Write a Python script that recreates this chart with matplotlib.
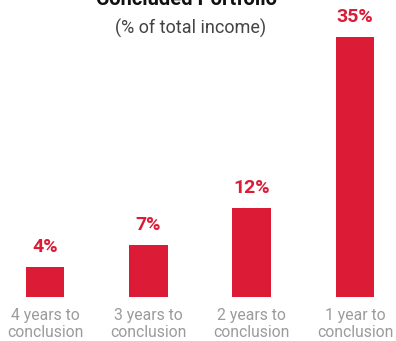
import matplotlib
matplotlib.use("Agg")
import matplotlib.pyplot as plt

categories = ["4 years to\nconclusion", "3 years to\nconclusion", "2 years to\nconclusion", "1 year to\nconclusion"]
values = [4, 7, 12, 35]
labels = ["4%", "7%", "12%", "35%"]

RED = "#dc1b37"
GRAY = "#9b9b9b"

plt.rcParams["font.family"] = ["Roboto", "DejaVu Sans"]

fig = plt.figure(figsize=(3.96, 3.41), dpi=100)
ax = fig.add_axes([0, 44 / 341, 1, 297 / 341])

x = range(len(values))
ax.bar(x, values, width=0.377, color=RED)
for i, (v, lab) in enumerate(zip(values, labels)):
    ax.annotate(lab, (i, v), xytext=(0, 8), textcoords="offset points",
                ha="center", va="bottom", color=RED, fontsize=14, fontweight="bold")

ax.set_xlim(-0.4355, 3.397)
ax.set_ylim(0, 40)
ax.set_xticks(list(x))
ax.set_xticklabels(categories, color=GRAY, fontsize=11.3, linespacing=1.15)
ax.tick_params(axis="x", length=0, pad=8)
ax.set_yticks([])
for s in ax.spines.values():
    s.set_visible(False)

fig.text(187 / 396, 1 - 5 / 341, "Concluded Portfolio", ha="center", va="baseline",
         fontsize=14.5, fontweight="bold", color="#111111")
fig.text(191 / 396, 1 - 28 / 341, "(% of total income)", ha="center", va="center",
         fontsize=13, color="#444444")

fig.savefig("out.png", dpi=100)
